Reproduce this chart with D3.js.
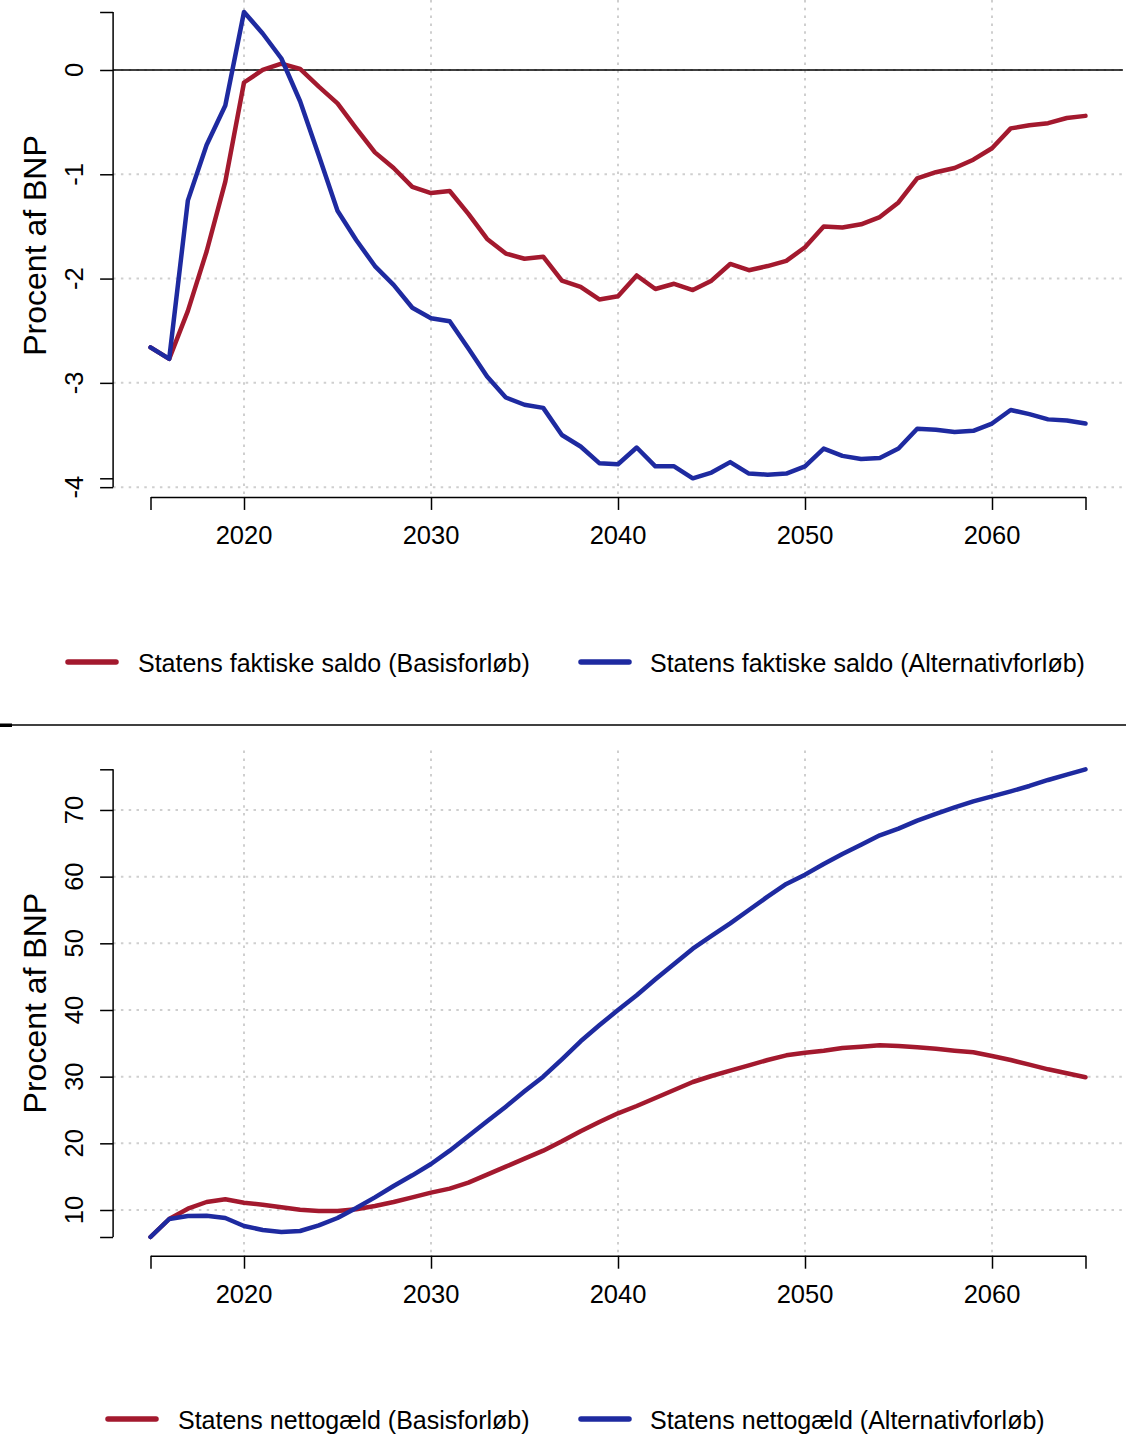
<!DOCTYPE html>
<html>
<head>
<meta charset="utf-8">
<script src="https://cdn.jsdelivr.net/npm/d3@7"></script>
<style>
  html, body { margin: 0; padding: 0; background: #ffffff; }
  svg { display: block; font-family: "Liberation Sans", Arial, Helvetica, sans-serif; }
</style>
</head>
<body>
<svg id="chart" width="1126" height="1436"></svg>
<script>
// ---- data -------------------------------------------------------------
const firstYear = 2015;
const lastYear = 2065;
const years = d3.range(firstYear, lastYear + 1);
const xTickYears = [2020, 2030, 2040, 2050, 2060];

// Statens faktiske saldo, pct. af BNP
const saldoBasis = [
  -2.66, -2.77, -2.31, -1.74, -1.07, -0.12, 0.00, 0.06, 0.01, -0.16,
  -0.32, -0.56, -0.79, -0.94, -1.12, -1.18, -1.16, -1.38, -1.62, -1.76,
  -1.81, -1.79, -2.02, -2.08, -2.20, -2.17, -1.97, -2.10, -2.05, -2.11,
  -2.02, -1.86, -1.92, -1.88, -1.83, -1.70, -1.50, -1.51, -1.48, -1.41,
  -1.27, -1.04, -0.98, -0.94, -0.86, -0.75, -0.56, -0.53, -0.51, -0.46,
  -0.44
];
const saldoAlternativ = [
  -2.66, -2.77, -1.25, -0.72, -0.34, 0.556, 0.35, 0.11, -0.30, -0.82,
  -1.35, -1.63, -1.88, -2.06, -2.28, -2.38, -2.41, -2.67, -2.94, -3.14,
  -3.21, -3.24, -3.50, -3.61, -3.77, -3.78, -3.62, -3.80, -3.80, -3.915,
  -3.86, -3.76, -3.87, -3.88, -3.87, -3.80, -3.63, -3.70, -3.73, -3.72,
  -3.63, -3.44, -3.45, -3.47, -3.46, -3.39, -3.26, -3.30, -3.35, -3.36,
  -3.39
];
const saldoTicks = [-4, -3, -2, -1, 0];

// Statens nettogæld, pct. af BNP
const gaeldBasis = [
  5.95, 8.65, 10.2, 11.2, 11.6, 11.1, 10.8, 10.4, 10.05, 9.85,
  9.85, 10.1, 10.6, 11.2, 11.9, 12.6, 13.2, 14.1, 15.3, 16.5,
  17.7, 18.9, 20.3, 21.8, 23.2, 24.5, 25.6, 26.8, 28.0, 29.2,
  30.1, 30.9, 31.7, 32.5, 33.2, 33.6, 33.9, 34.3, 34.5, 34.7,
  34.6, 34.4, 34.2, 33.9, 33.65, 33.1, 32.5, 31.8, 31.1, 30.5,
  29.9
];
const gaeldAlternativ = [
  5.95, 8.65, 9.1, 9.15, 8.8, 7.6, 7.0, 6.7, 6.85, 7.7,
  8.8, 10.3, 11.9, 13.6, 15.2, 16.9, 18.9, 21.1, 23.3, 25.5,
  27.8, 30.0, 32.6, 35.3, 37.7, 40.0, 42.2, 44.6, 46.9, 49.2,
  51.1, 53.0, 55.0, 57.0, 58.9, 60.3, 61.9, 63.4, 64.8, 66.2,
  67.2, 68.4, 69.4, 70.4, 71.3, 72.05, 72.8, 73.6, 74.5, 75.3,
  76.1
];
const gaeldTicks = [10, 20, 30, 40, 50, 60, 70];

const yTitle = "Procent af BNP";
const legendSaldo = ["Statens faktiske saldo (Basisforløb)", "Statens faktiske saldo (Alternativforløb)"];
const legendGaeld = ["Statens nettogæld (Basisforløb)", "Statens nettogæld (Alternativforløb)"];

// ---- styling ----------------------------------------------------------
const RED = "#A3192E";
const BLUE = "#1E2AA0";
const GRID = "#cfcfcf";

const svg = d3.select("#chart");

// Draw one panel: grid, axes, lines and legend
function drawPanel(cfg) {
  const g = svg.append("g");
  const x = d3.scaleLinear().domain([firstYear, lastYear]).range([150.5, 1085.5]);
  const all = cfg.series.flatMap(s => s.values);
  const yMin = d3.min(all), yMax = d3.max(all);
  const y = d3.scaleLinear().domain([yMin, yMax]).range([cfg.yBottom, cfg.yTop]);

  // plot region (R-style 4% padding)
  const padY = (cfg.yBottom - cfg.yTop) * 0.04;
  const regTop = Math.max(0, cfg.yTop - padY);
  const regBottom = cfg.yBottom + padY;
  const regLeft = x(firstYear - 2);
  const regRight = x(lastYear + 2);

  // dotted grid
  g.append("g").selectAll("line.h").data(cfg.ticks).join("line")
    .attr("x1", regLeft).attr("x2", regRight)
    .attr("y1", d => y(d)).attr("y2", d => y(d))
    .attr("stroke", GRID).attr("stroke-width", 2).attr("stroke-dasharray", "2.5,5.3");
  g.append("g").selectAll("line.v").data(xTickYears).join("line")
    .attr("x1", d => x(d)).attr("x2", d => x(d))
    .attr("y1", regTop).attr("y2", regBottom)
    .attr("stroke", GRID).attr("stroke-width", 2).attr("stroke-dasharray", "2.5,5.3");

  if (cfg.zeroLine) {
    g.append("line")
      .attr("x1", regLeft).attr("x2", regRight)
      .attr("y1", y(0)).attr("y2", y(0))
      .attr("stroke", "#000").attr("stroke-width", 1.6);
  }

  // series
  const line = d3.line().x((d, i) => x(years[i])).y(d => y(d));
  cfg.series.forEach(s => {
    g.append("path").datum(s.values)
      .attr("d", line)
      .attr("fill", "none").attr("stroke", s.color)
      .attr("stroke-width", 4.5).attr("stroke-linejoin", "round").attr("stroke-linecap", "round");
  });

  // y axis: ticks at data range ends plus the pretty ticks
  const yTickVals = [yMin, yMax, ...cfg.ticks];
  const yAxis = d3.axisLeft(y).tickValues(yTickVals).tickSize(13).tickSizeOuter(0).tickFormat("");
  const ya = g.append("g").attr("transform", `translate(${regLeft},0)`).call(yAxis);
  ya.select(".domain").remove();
  ya.selectAll(".tick line").attr("stroke", "#000").attr("stroke-width", 1.5);
  const yExt = d3.extent(yTickVals.map(v => y(v)));
  g.append("line").attr("x1", regLeft).attr("x2", regLeft)
    .attr("y1", yExt[0]).attr("y2", yExt[1])
    .attr("stroke", "#000").attr("stroke-width", 1.5);
  g.append("g").selectAll("text").data(cfg.ticks).join("text")
    .attr("transform", d => `translate(83,${y(d)}) rotate(-90)`)
    .attr("text-anchor", "middle")
    .attr("font-size", 25.5).attr("fill", "#000")
    .text(d => d);

  // y title
  g.append("text")
    .attr("transform", `translate(46,${(regTop + regBottom) / 2 - (cfg.yTop < 20 ? 3 : 0)}) rotate(-90)`)
    .attr("text-anchor", "middle")
    .attr("font-size", 32).attr("fill", "#000")
    .text(yTitle);

  // x axis
  const xAxis = d3.axisBottom(x).tickValues([firstYear, ...xTickYears, lastYear])
    .tickSize(13).tickSizeOuter(0).tickFormat("");
  const xa = g.append("g").attr("transform", `translate(0,${regBottom})`).call(xAxis);
  xa.select(".domain").attr("stroke", "#000").attr("stroke-width", 1.5);
  xa.selectAll(".tick line").attr("stroke", "#000").attr("stroke-width", 1.5);
  g.append("g").selectAll("text").data(xTickYears).join("text")
    .attr("x", d => x(d)).attr("y", regBottom + 47)
    .attr("text-anchor", "middle")
    .attr("font-size", 25.5).attr("fill", "#000")
    .text(d => d);

  // legend
  const lg = g.append("g");
  cfg.legend.forEach((item, i) => {
    lg.append("line")
      .attr("x1", item.sx).attr("x2", item.sx + 48)
      .attr("y1", cfg.legendY).attr("y2", cfg.legendY)
      .attr("stroke", cfg.series[i].color).attr("stroke-width", 5.5).attr("stroke-linecap", "round");
    lg.append("text")
      .attr("x", item.tx).attr("y", cfg.legendY + 9.5)
      .attr("font-size", 25).attr("fill", "#000")
      .text(item.label);
  });
}

drawPanel({
  series: [{ values: saldoBasis, color: RED }, { values: saldoAlternativ, color: BLUE }],
  ticks: saldoTicks,
  yTop: 12.0,
  yBottom: 478.3,
  zeroLine: true,
  legendY: 662,
  legend: [
    { sx: 68, tx: 138, label: legendSaldo[0] },
    { sx: 581, tx: 650, label: legendSaldo[1] }
  ]
});

drawPanel({
  series: [{ values: gaeldBasis, color: RED }, { values: gaeldAlternativ, color: BLUE }],
  ticks: gaeldTicks,
  yTop: 769.3,
  yBottom: 1237,
  zeroLine: false,
  legendY: 1419,
  legend: [
    { sx: 108, tx: 178, label: legendGaeld[0] },
    { sx: 581, tx: 650, label: legendGaeld[1] }
  ]
});

// separator between the two panels
svg.append("line").attr("x1", 0).attr("x2", 1126).attr("y1", 725).attr("y2", 725)
  .attr("stroke", "#000").attr("stroke-width", 1.6);
svg.append("rect").attr("x", 0).attr("y", 723.5).attr("width", 12).attr("height", 3.5).attr("fill", "#000");
</script>
</body>
</html>
